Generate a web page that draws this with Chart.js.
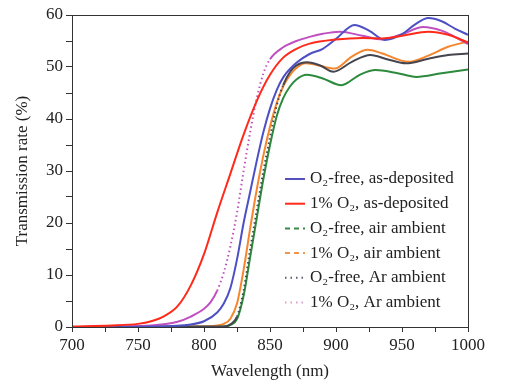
<!DOCTYPE html>
<html>
<head>
<meta charset="utf-8">
<script src="https://cdn.jsdelivr.net/npm/chart.js@4/dist/chart.umd.min.js"></script>
<style>
html,body{margin:0;padding:0;background:#fff;}
#wrap{width:505px;height:385px;}
</style>
</head>
<body>
<div id="wrap"><canvas id="c" width="505" height="385"></canvas></div>
<script>
// ---- data ----
const seriesLabels = ["O\u2082-free, as-deposited", "1% O\u2082, as-deposited", "O\u2082-free, air ambient", "1% O\u2082, air ambient", "O\u2082-free, Ar ambient", "1% O\u2082, Ar ambient"];

const blueX = [700,760,790,800,810,815,820,825,830,835,840,845,850,855,860,870,880,890,900,914,925,937,950,960,970,980,990,1000];
const blueY = [0,0.1,0.5,1.1,2.8,4.5,7.5,13,20,26,32,37.5,42,45.5,48,50.8,52.5,53.5,55.4,58.1,57,55.2,56.3,58.2,59.4,58.8,57.4,56.2];

const redX = [700,730,750,760,770,780,790,800,810,820,830,840,850,860,870,880,900,920,935,950,970,985,1000];
const redY = [0.1,0.3,0.6,1.1,2.1,4,8,14,22,29.5,37,43.5,48.5,51.8,53.5,54.5,55.3,55.6,55.5,56,56.8,56.2,54.7];

const greenX = [700,815,820,825,830,835,840,845,850,855,860,865,870,878,890,904,918,930,945,961,980,1000];
const greenY = [0,0.1,0.4,1.5,6,13.5,21,28.5,35,40.5,44,46.2,47.6,48.5,47.8,46.5,48.5,49.4,48.9,48.1,48.8,49.5];

const orangeX = [700,800,810,815,820,825,830,835,840,845,850,855,860,865,870,877,885,899,912,924,935,955,970,985,1000];
const orangeY = [0,0.1,0.3,0.6,1.6,4.5,11,19,26.5,33,38.5,43,46.3,48.4,49.8,50.7,50.4,49.7,52,53.3,52.6,51,52.2,53.9,54.9];

const blackX = [700,815,820,825,830,835,840,845,850,855,860,865,870,878,888,898,912,926,940,953,970,985,1000];
const blackY = [0,0.1,0.5,2,7,15,22.5,30,36.5,42.5,46.5,49,50.3,50.9,50.3,49.1,51,52.3,51.4,50.7,51.6,52.3,52.6];

const purpleX = [700,760,780,790,800,805,810,815,820,825,830,835,840,845,850,860,870,880,890,903,920,935,950,966,980,990,1000];
const purpleY = [0,0.3,1,2,3.5,4.8,7,10.5,15.5,22,30,37.5,44,48.8,51.5,53.8,55,55.8,56.4,56.8,56,55.3,56.3,57.7,57,55.8,54.4];

const xTickLabels = [700,750,800,850,900,950,1000];
const yTickLabels = [0,10,20,30,40,50,60];

// ---- styles ----
const lineColors = ['#4d4fc4','#ff2a1a','#2c8a3c','#f5862e','#454550','#c050c0'];
const legendColors = ['#5450c0','#ff2a1a','#3a8a4a','#f5924a','#5a5a70','#d8a0cc'];
const legendDashes = [[], [], [5,4], [5,4], [1.5,4], [1.5,4]];

function pts(xs, ys){ return xs.map((x,i)=>({x:x, y:ys[i]})); }
const xsAll = [blueX, redX, greenX, orangeX, blackX, purpleX];
const ysAll = [blueY, redY, greenY, orangeY, blackY, purpleY];

const steepDots = ctx => {
  const dy = Math.abs(ctx.p1.parsed.y - ctx.p0.parsed.y);
  const dx = Math.abs(ctx.p1.parsed.x - ctx.p0.parsed.x);
  return (dy/dx > 0.5) ? [1.5,3] : undefined;
};

const datasets = seriesLabels.map((lab,i)=>({
  label: lab,
  data: pts(xsAll[i], ysAll[i]),
  borderColor: lineColors[i],
  backgroundColor: lineColors[i],
  borderWidth: 2,
  pointRadius: 0,
  fill: false,
  cubicInterpolationMode: 'monotone',
  segment: (i === 5 || i === 4) ? { borderDash: steepDots } : {}
}));
const order = [2,3,4,5,0,1];
order.forEach((k,idx)=>{ datasets[k].order = 6-idx; });

const serif = "'Liberation Serif', 'DejaVu Serif', serif";

const framePlugin = {
  id: 'frame',
  afterDraw(chart){
    const {ctx, chartArea:a} = chart;
    ctx.save();
    ctx.strokeStyle = '#333';
    ctx.lineWidth = 1;
    ctx.strokeRect(a.left+0.5, a.top+0.5, a.right-a.left, a.bottom-a.top);
    // legend
    const x0 = a.left + 213, x1 = a.left + 233, tx = a.left + 238;
    ctx.font = "17px " + serif;
    ctx.textBaseline = 'middle';
    ctx.textAlign = 'left';
    for(let i=0;i<seriesLabels.length;i++){
      const y = a.top + 164 + i*24.7;
      ctx.beginPath();
      ctx.setLineDash(legendDashes[i]);
      ctx.strokeStyle = legendColors[i];
      ctx.lineWidth = 2;
      ctx.moveTo(x0, y); ctx.lineTo(x1, y);
      ctx.stroke();
      ctx.setLineDash([]);
      ctx.fillStyle = '#222';
      ctx.fillText(seriesLabels[i], tx, y);
    }
    ctx.restore();
  }
};

new Chart(document.getElementById('c'), {
  type: 'line',
  data: { datasets },
  options: {
    responsive: false,
    animation: false,
    layout: { padding: { left: 0, right: 37, top: 15, bottom: 0 } },
    plugins: { legend: { display: false }, tooltip: { enabled: false } },
    scales: {
      x: {
        type: 'linear', min: 700, max: 1000,
        afterFit: s => { s.height = 58; },
        border: { display: true, color: '#333' },
        grid: { drawOnChartArea: false, drawTicks: true, tickLength: 5, color: '#333' },
        ticks: {
          stepSize: 25, color: '#222', padding: 3, maxRotation: 0, autoSkip: false,
          font: { family: serif, size: 17 },
          callback: v => xTickLabels.includes(v) ? String(v) : ''
        },
        title: { display: true, text: 'Wavelength (nm)', color: '#222', font: { family: serif, size: 17 }, padding: { top: 0, bottom: 3 } }
      },
      y: {
        type: 'linear', min: 0, max: 60,
        afterFit: s => { s.width = 72; },
        border: { display: true, color: '#333' },
        grid: { drawOnChartArea: false, drawTicks: true, tickLength: 6, color: '#333' },
        ticks: {
          stepSize: 5, color: '#222', padding: 3, autoSkip: false,
          font: { family: serif, size: 17 },
          callback: v => yTickLabels.includes(v) ? String(v) : ''
        },
        title: { display: true, text: 'Transmission rate (%)', color: '#222', font: { family: serif, size: 17 }, padding: { top: 12, bottom: 0 } }
      }
    }
  },
  plugins: [framePlugin]
});
</script>
</body>
</html>
